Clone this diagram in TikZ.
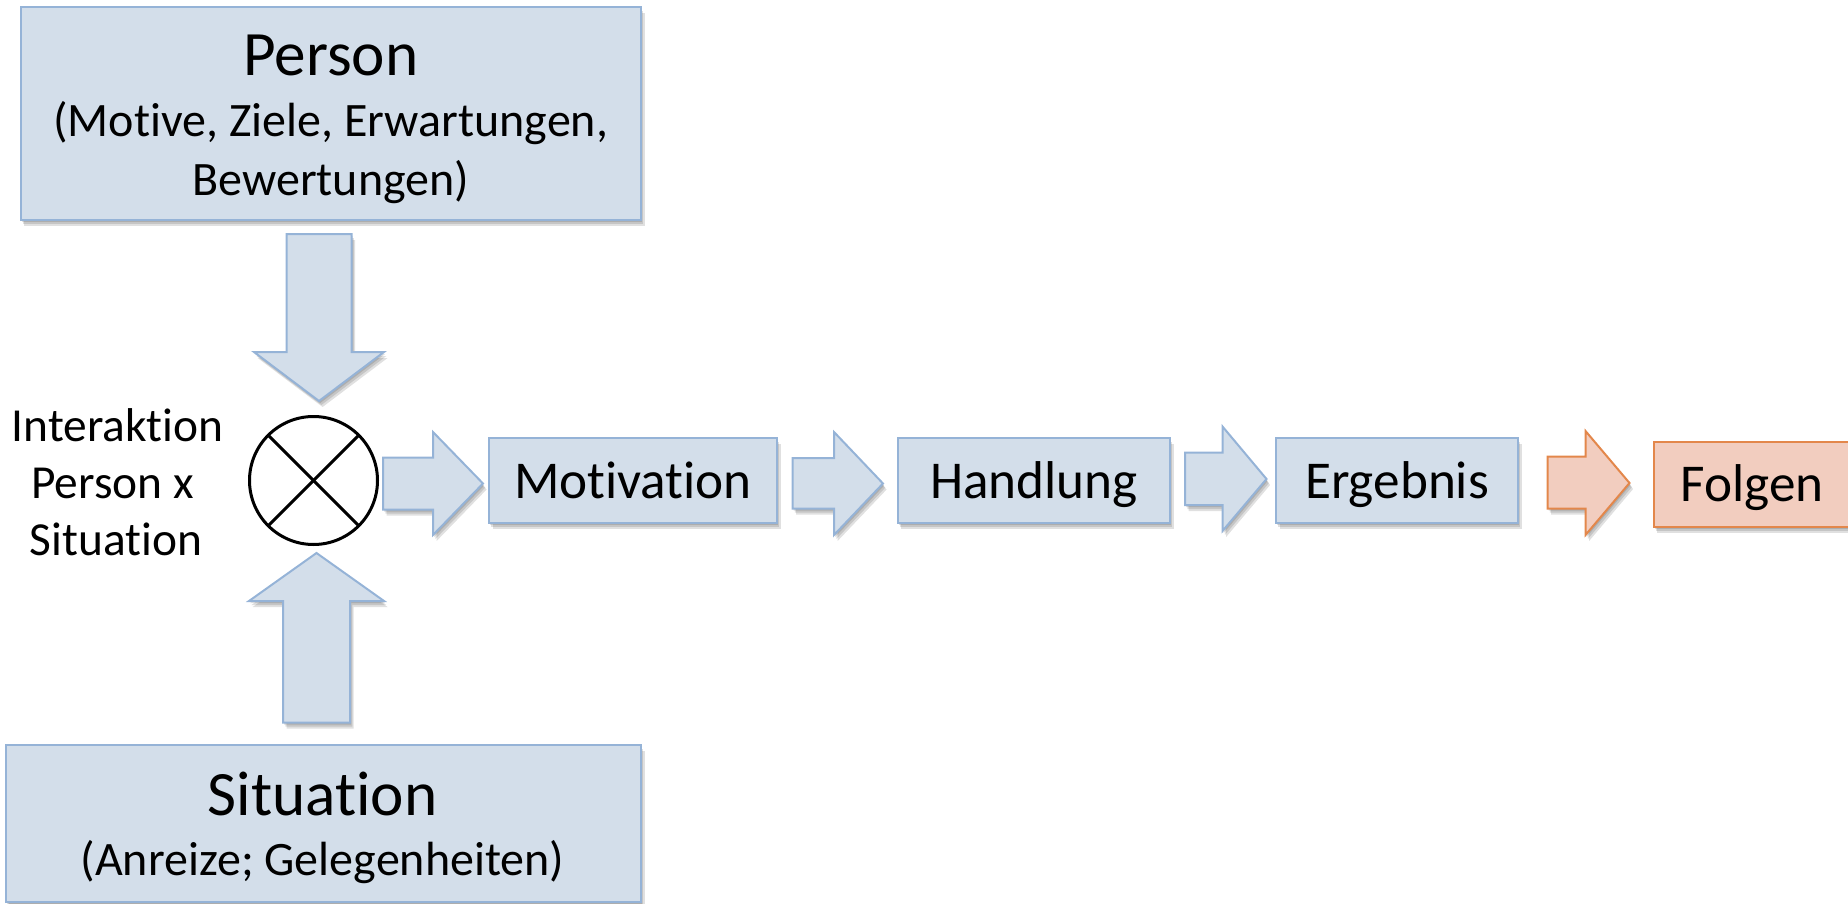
\documentclass[tikz,border=0pt]{standalone}
\usepackage{fontspec}
\setmainfont{Carlito}[Ligatures={NoCommon}, RawFeature={-liga}]
\usetikzlibrary{shadows}
\definecolor{boxfill}{HTML}{D3DEEA}
\definecolor{boxline}{HTML}{95B3D7}
\definecolor{orfill}{HTML}{F2CDBF}
\definecolor{orline}{HTML}{E3874B}
\tikzset{
  shad/.style={
    general shadow={shadow xshift=0.6pt, shadow yshift=-1pt, fill=black, opacity=0.12},
    general shadow={shadow xshift=1.2pt, shadow yshift=-2pt, fill=black, opacity=0.12},
    general shadow={shadow xshift=1.8pt, shadow yshift=-3pt, fill=black, opacity=0.12}},
  bluebox/.style={fill=boxfill, draw=boxline, line width=1pt, shad},
  orangebox/.style={fill=orfill, draw=orline, line width=1pt, shad},
  boxnode/.style={rectangle, inner sep=0pt, outer sep=0pt},
  lbl/.style={anchor=base, inner sep=0pt, outer sep=0pt},
  titlefont/.style={font=\fontsize{31.6}{38}\selectfont},
  subfont/.style={font=\fontsize{24}{29}\selectfont},
  chainfont/.style={font=\fontsize{26.6}{32}\selectfont},
  intfont/.style={font=\fontsize{23.7}{28}\selectfont},
}
\begin{document}
\begin{tikzpicture}[x=0.5pt, y=-0.5pt]
\useasboundingbox (0,0) rectangle (1848,904);

% Person box
\node[boxnode, bluebox, minimum width=310.25pt, minimum height=106.5pt] (person) at (330.75,113.5) {};
\node[lbl, titlefont] (ptitle) at (330.7,76) {Person};
\node[lbl, subfont] (psub1) at (330.7,137) {(Motive, Ziele, Erwartungen,};
\node[lbl, subfont] (psub2) at (330.7,195) {Bewertungen)};

% Situation box
\node[boxnode, bluebox, minimum width=317.75pt, minimum height=78.25pt] (situation) at (323.25,823.25) {};
\node[lbl, titlefont] (stitle) at (322.5,815) {Situation};
\node[lbl, subfont] (ssub) at (322.5,875) {(Anreize; Gelegenheiten)};

% down arrow
\path[bluebox] (286.5,234) -- (351.5,234) -- (351.5,352) -- (384,352) -- (319,401) -- (254,352) -- (286.5,352) -- cycle;
% up arrow
\path[bluebox] (316.5,553) -- (384,601) -- (350,601) -- (350,722.5) -- (283,722.5) -- (283,601) -- (249,601) -- cycle;

% interaction circle
\node[circle, draw=black, line width=1.5pt, fill=white, minimum size=64pt, inner sep=0pt, outer sep=0pt] (inter) at (313.5,480.5) {};
\draw[line width=1.5pt] (inter.45) -- (inter.225);
\draw[line width=1.5pt] (inter.135) -- (inter.315);

\node[lbl, intfont] (int1) at (117.5,441) {Interaktion};
\node[lbl, intfont] (int2) at (112.6,498) {Person x};
\node[lbl, intfont] (int3) at (116,555) {Situation};

% right arrows
\path[bluebox] (383,457.5) -- (433,457.5) -- (433,432) -- (483,483.5) -- (433,535) -- (433,509.5) -- (383,509.5) -- cycle;
\path[bluebox] (792.5,458) -- (834,458) -- (834,432) -- (883,483.5) -- (834,535) -- (834,508.5) -- (792.5,508.5) -- cycle;
\path[bluebox] (1185,452.5) -- (1222.5,452.5) -- (1222.5,426.5) -- (1266.5,479) -- (1222.5,531) -- (1222.5,505) -- (1185,505) -- cycle;
\path[orangebox] (1547.5,456.5) -- (1585.5,456.5) -- (1585.5,431) -- (1629.5,483) -- (1585.5,535) -- (1585.5,508.5) -- (1547.5,508.5) -- cycle;

% chain boxes
\node[boxnode, bluebox, minimum width=144pt, minimum height=42.5pt] (motivation) at (633,480.5) {};
\node[lbl, chainfont] (tmot) at (633,498) {Motivation};
\node[boxnode, bluebox, minimum width=136.25pt, minimum height=42.5pt] (handlung) at (1033.75,480.5) {};
\node[lbl, chainfont] (thand) at (1034,498) {Handlung};
\node[boxnode, bluebox, minimum width=121pt, minimum height=42.5pt] (ergebnis) at (1397,480.5) {};
\node[lbl, chainfont] (terg) at (1397,498) {Ergebnis};
\node[boxnode, orangebox, minimum width=99.25pt, minimum height=42.5pt] (folgen) at (1752.75,484.5) {};
\node[lbl, chainfont] (tfol) at (1752,501) {Folgen};
\end{tikzpicture}
\end{document}
